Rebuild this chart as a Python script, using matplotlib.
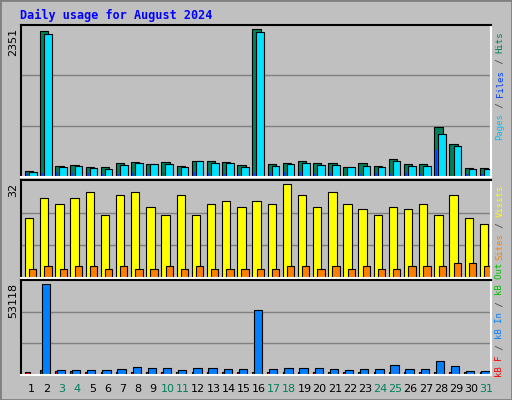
import matplotlib
matplotlib.use("Agg")
import matplotlib.pyplot as plt
from matplotlib.patches import Rectangle

days = list(range(1, 32))
weekend = [3, 4, 10, 11, 17, 18, 24, 25, 31]
hits = [94, 2320, 181, 197, 165, 165, 229, 245, 213, 245, 181, 261, 261, 245, 197, 2351, 213, 229, 261, 229, 229, 165, 229, 181, 293, 213, 213, 803, 532, 149, 149]
files = [85, 2272, 165, 181, 149, 133, 197, 229, 213, 213, 165, 261, 229, 229, 165, 2304, 181, 213, 229, 197, 197, 165, 181, 165, 261, 181, 181, 676, 500, 133, 133]
pages = [60, 70, 75, 65, 60, 55, 50, 60, 55, 80, 55, 85, 60, 55, 45, 70, 60, 85, 80, 55, 60, 50, 55, 70, 55, 60, 55, 436, 55, 45, 55]
visits = [20.5, 27.3, 25.2, 27.3, 29.3, 21.5, 28.3, 29.3, 24.2, 21.5, 28.3, 21.5, 25.2, 26.3, 24.2, 26.3, 25.2, 32, 28.3, 24.2, 29.3, 25.2, 23.6, 21.5, 24.2, 23.6, 25.2, 21.5, 28.3, 20.5, 18.5]
sites = [3, 4, 3, 4, 4, 3, 4, 3, 3, 4, 3, 4, 3, 3, 3, 3, 3, 4, 4, 3, 4, 3, 4, 3, 3, 4, 4, 4, 5, 5, 4]
kb_in = [800, 53118, 2700, 2700, 2700, 2700, 3300, 4500, 3900, 3900, 2700, 3900, 3900, 3300, 3300, 37900, 3300, 3900, 3900, 3900, 3300, 2700, 3300, 3300, 5700, 3300, 3300, 8000, 5100, 2100, 2100]
kb_f = [1800, 2900, 2300, 2300, 1900, 1900, 1900, 1900, 1900, 1900, 1900, 1900, 1900, 1900, 1900, 1900, 1900, 1900, 1900, 1900, 1900, 1900, 1900, 1900, 1900, 1900, 1900, 1900, 1900, 1900, 1900]
max_hits, max_visits, max_kb = 2351, 32, 53118

W, H = 512, 400
fig = plt.figure(figsize=(W/100, H/100), dpi=100, facecolor="#C0C0C0")
fig.patches.append(Rectangle((0, 0), 1, 1, transform=fig.transFigure, fill=False, edgecolor="#808080", lw=2))

def ax_px(x0, y0, x1, y1):
    return fig.add_axes([x0/W, 1-y1/H, (x1-x0)/W, (y1-y0)/H])

bg = "#C0C0C0"
x = [d-1 for d in days]

def style(ax, top):
    ax.set_facecolor(bg)
    ax.set_xlim(0, 31)
    ax.set_ylim(0, top)
    for f in (1/3, 2/3):
        ax.axhline(top*f, color="#808080", lw=1, zorder=0)
    ax.set_xticks([]); ax.set_yticks([])
    for s in ax.spines.values():
        s.set_color("white"); s.set_linewidth(1.5)
    ax.spines['left'].set_color("black"); ax.spines['top'].set_color("black")

ek = dict(edgecolor="black", linewidth=0.8)
a1 = ax_px(20.7, 24.5, 490.7, 177)
style(a1, max_hits*456/442)
a1.bar([i+0.28 for i in x], hits, 0.55, align='edge', color="#00805C", **ek)
a1.bar([i+0.55 for i in x], files, 0.5, align='edge', color="#00E0FF", **ek)
a1.bar([i+0.36 for i in x], pages, 0.12, align='edge', color="#0040FF", linewidth=0)

a2 = ax_px(20.7, 180, 490.7, 278)
style(a2, max_visits*297/284)
a2.bar([i+0.28 for i in x], visits, 0.55, align='edge', color="#FFFF00", **ek)
a2.bar([i+0.56 for i in x], sites, 0.48, align='edge', color="#FF8000", **ek)

a3 = ax_px(20.7, 280, 490.7, 375)
style(a3, max_kb*285/272)
a3.bar([i+0.27 for i in x], kb_f, 0.35, align='edge', color="#FF0000", **ek)
a3.bar([i+0.38 for i in x], kb_in, 0.55, align='edge', color="#0080FF", **ek)

for d, xi in zip(days, x):
    fig.text((20.7 + (xi+0.72)*470/31)/W, 1-389/H, str(d), ha='center', va='center',
             fontsize=8, color="#00805C" if d in weekend else "black")

fig.text(20/W, 1-15/H, "Daily usage for August 2024", fontsize=8.5, fontweight='bold',
         family="DejaVu Sans Mono", color="#0000FF", va='center')
for lab, yt in ((str(max_hits), 28), (str(max_visits), 183), (str(max_kb), 283)):
    fig.text(13/W, 1-yt/H, lab, rotation=90, ha='center', va='top', fontsize=8)

FS = 6.5
def vlabel(parts, ybottom):
    cw = 0.602*FS*100/72
    y = ybottom
    for txt, col in parts:
        fig.text(500/W, 1-y/H, txt, rotation=90, ha='center', va='bottom', fontsize=FS,
                 family="DejaVu Sans Mono", color=col)
        y -= cw*len(txt)

vlabel([("Pages", "#00C0FF"), (" / ", "#404040"), ("Files", "#0040FF"), (" / ", "#404040"), ("Hits", "#00805C")], 140)
vlabel([("Sites", "#FF8000"), (" / ", "#404040"), ("Visits", "#FFFF00")], 260)
vlabel([("kB F", "#FF0000"), (" / ", "#404040"), ("kB In", "#0080FF"), (" / ", "#404040"), ("kB Out", "#00C000")], 377)

fig.savefig("out.png", dpi=100, facecolor=fig.get_facecolor())
